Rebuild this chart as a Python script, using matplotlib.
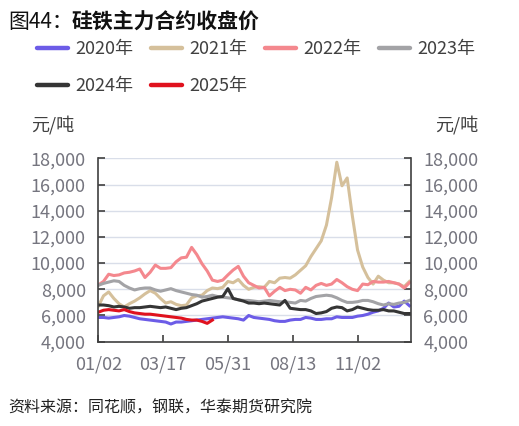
import numpy as np
import matplotlib
matplotlib.use("Agg")
import matplotlib.pyplot as plt

plt.rcParams["font.family"] = ["Noto Sans CJK SC", "DejaVu Sans"]

# one sample every 4 trading days
SAMPLE_STEP = 4

tick_pos = [0, 50, 100, 150, 200]
tick_labels = ["01/02", "03/17", "05/31", "08/13", "11/02"]

y2020 = [5850, 5850, 5800, 5850, 5900, 6000, 5950, 5850, 5750, 5700,
         5650, 5600, 5550, 5500, 5350, 5500, 5500, 5550, 5600, 5650,
         5700, 5750, 5800, 5850, 5900, 5850, 5800, 5750, 5650, 6000,
         5850, 5800, 5750, 5700, 5600, 5550, 5550, 5650, 5700, 5700,
         5850, 5800, 5700, 5700, 5750, 5750, 5900, 5850, 5850, 5850,
         5950, 6000, 6100, 6250, 6350, 6550, 6950, 6650, 6700, 7100,
         6750]
y2021 = [6700, 7500, 7800, 7300, 6900, 6650, 6900, 7100, 7350, 7650,
         7900, 7700, 7300, 6950, 7050, 6850, 6750, 6800, 7350, 7500,
         7550, 7900, 8100, 8050, 8150, 8600, 8500, 8750, 8300, 8000,
         8150, 8200, 8150, 8600, 8500, 8850, 8900, 8850, 9100, 9450,
         9800, 10500, 11100, 11700, 12900, 15000, 17700, 15900, 16500, 13600,
         11000, 9700, 8900, 8400, 9000, 8700, 8500, 8500, 8400, 8200,
         8600]
y2022 = [8330, 8600, 9150, 9050, 9100, 9250, 9300, 9400, 9550, 8900,
         9300, 9850, 9600, 9600, 9650, 10100, 10400, 10450, 11200, 10650,
         9950, 9400, 8700, 8600, 8700, 9100, 9470, 9750, 9000, 8500,
         8300, 8100, 8150, 7500, 7850, 8150, 7900, 8000, 7950, 7700,
         8150, 7950, 8300, 8450, 8300, 8400, 8750, 8500, 8200, 8000,
         7900, 8400, 8350, 8600, 8550, 8550, 8600, 8500, 8400, 8100,
         8500]
y2023 = [8300, 8450, 8550, 8650, 8600, 8300, 8100, 7950, 8050, 8100,
         8100, 7950, 7850, 7950, 8050, 7900, 7800, 7700, 7600, 7550,
         7400, 7450, 7550, 7450, 7400, 7350, 7300, 7200, 7150, 7150,
         7100, 7050, 7100, 7150, 7100, 7050, 7050, 7000, 6950, 7150,
         7100, 7300, 7450, 7500, 7550, 7500, 7350, 7150, 7000, 7000,
         7050, 7150, 7150, 7050, 6900, 6800, 6900, 6850, 6950, 7000,
         7150]
y2024 = [6800, 6800, 6750, 6650, 6700, 6650, 6550, 6600, 6600, 6650,
         6700, 6650, 6600, 6650, 6550, 6450, 6550, 6600, 6750, 6900,
         7100, 7200, 7300, 7400, 7450, 8050, 7300, 7200, 7100, 6950,
         6950, 6900, 6950, 6900, 6850, 6800, 7150, 6550, 6500, 6450,
         6450, 6350, 6150, 6200, 6300, 6550, 6650, 6600, 6350, 6450,
         6650, 6550, 6450, 6400, 6400, 6450, 6350, 6350, 6250, 6150,
         6150]
y2025 = [6250, 6400, 6450, 6400, 6350, 6450, 6300, 6200, 6150, 6100,
         6100, 6050, 6000, 5950, 5900, 5850, 5800, 5700, 5650, 5650,
         5550, 5400, 5650]

series = [
    ("2020年", y2020, "#6C5CE7"),
    ("2021年", y2021, "#D5C09B"),
    ("2022年", y2022, "#F4888E"),
    ("2023年", y2023, "#A3A3A6"),
    ("2024年", y2024, "#353535"),
    ("2025年", y2025, "#E0121E"),
]

fig = plt.figure(figsize=(5.19, 4.26), dpi=100)
ax = fig.add_axes([0.1894, 0.1979, 0.6019, 0.4305])

lines = []
for label, vals, color in series:
    xs = np.arange(len(vals)) * SAMPLE_STEP
    ln, = ax.plot(xs, vals, color=color, linewidth=2.2, label=label,
                  solid_joinstyle="round")
    lines.append(ln)

ax.set_xlim(0, 241)
ax.set_ylim(4000, 18000)
ax.set_yticks(np.arange(4000, 18001, 2000))
ax.yaxis.set_major_formatter(matplotlib.ticker.StrMethodFormatter("{x:,.0f}"))
ax.set_xticks(tick_pos)
ax.set_xticklabels(tick_labels)

ax.grid(axis="y", color="#D9DEE9", linewidth=1.0)
ax.set_axisbelow(True)

for side in ("left", "right", "bottom"):
    ax.spines[side].set_color("#404040")
    ax.spines[side].set_linewidth(1.2)
ax.spines["top"].set_visible(False)

ax.tick_params(axis="y", which="both", direction="in", length=5, width=1.2,
               color="#404040", labelsize=13, labelcolor="#75757F",
               left=True, right=True, labelleft=True, labelright=True, pad=9)
ax.tick_params(axis="x", direction="in", length=5, width=1.2,
               color="#404040", labelsize=13, labelcolor="#75757F", pad=10)

# title: figure number in regular weight, name in bold
fig.text(8 / 519, 1 - 22 / 426, "图44：", fontsize=15,
         color="#111111", va="center", ha="left")
fig.text(72 / 519, 1 - 22 / 426, "硅铁主力合约收盘价", fontsize=15,
         fontweight="bold", color="#111111", va="center", ha="left")

# legend is filled column by column, so order it to read row by row
order = [0, 4, 1, 5, 2, 3]
leg = fig.legend([lines[i] for i in order], [series[i][0] for i in order],
                 loc="upper left", bbox_to_anchor=(37 / 519, 1 - 40 / 426),
                 ncol=4, frameon=False, fontsize=13, handlelength=1.7,
                 handletextpad=0.45, columnspacing=0.95, labelspacing=1.05,
                 borderpad=0, borderaxespad=0, labelcolor="#404040")
for h in leg.get_lines():
    h.set_linewidth(3.2)
    h.set_solid_capstyle("round")

fig.text(53 / 519, 1 - 125 / 426, "元/吨", fontsize=13, color="#404040",
         ha="center", va="center")
fig.text(457 / 519, 1 - 125 / 426, "元/吨", fontsize=13, color="#404040",
         ha="center", va="center")

fig.text(8 / 519, 1 - 408 / 426, "资料来源：同花顺，钢联，华泰期货研究院",
         fontsize=11.5, color="#222222", ha="left", va="center",
         style="italic")

fig.savefig("out.png", dpi=100)
